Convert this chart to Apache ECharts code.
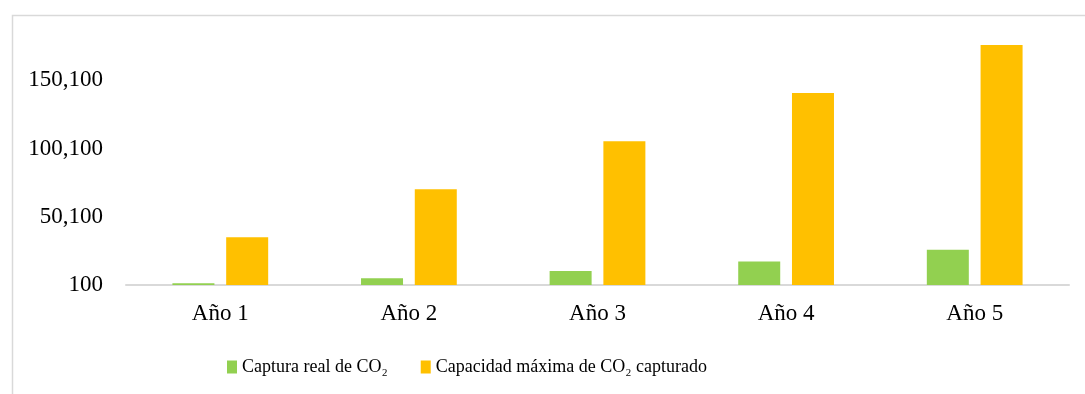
<!DOCTYPE html>
<html>
<head>
<meta charset="utf-8">
<script src="https://cdn.jsdelivr.net/npm/echarts@6/dist/echarts.min.js"></script>
<style>
  html, body { margin: 0; padding: 0; background: #fff; }
  #chart { width: 1085px; height: 394px; }
</style>
</head>
<body>
<div id="chart"></div>
<script>
// Años del periodo de operación
const categories = ['Año 1', 'Año 2', 'Año 3', 'Año 4', 'Año 5'];
// CO₂ capturado realmente cada año
const capturaReal = [1300, 5000, 10300, 17400, 25900];
// Capacidad máxima de captura de CO₂
const capacidadMaxima = [35000, 70200, 105500, 140700, 175900];
// Escala del eje vertical
const yMin = 100;
const yStep = 50000;
const yMax = 200100;

const seriesNames = ['Captura real de CO₂', 'Capacidad máxima de CO₂ capturado'];
const FONT = '"Liberation Serif", "Times New Roman", serif';

const chart = echarts.init(document.getElementById('chart'));
chart.setOption({
  animation: false,
  backgroundColor: '#ffffff',
  graphic: [{
    type: 'rect',
    left: 10, top: 13,
    shape: { width: 1200, height: 500 },
    style: { fill: 'none', stroke: '#d9d9d9', lineWidth: 1.5 },
    silent: true, z: -1
  }],
  grid: { left: 126, right: 16, top: 12, bottom: 109, containLabel: false },
  legend: {
    left: 222, top: 353,
    itemWidth: 10, itemHeight: 13, itemGap: 33,
    icon: 'rect',
    textStyle: { fontFamily: FONT, fontSize: 18, color: '#000' },
    data: seriesNames
  },
  xAxis: {
    type: 'category',
    data: categories,
    axisLine: { lineStyle: { color: '#d9d9d9', width: 2 } },
    axisTick: { show: false },
    axisLabel: { fontFamily: FONT, fontSize: 23, color: '#000', margin: 17 }
  },
  yAxis: {
    type: 'value',
    min: yMin, max: yMax, interval: yStep,
    axisLine: { show: false },
    axisTick: { show: false },
    splitLine: { show: false },
    axisLabel: {
      fontFamily: FONT, fontSize: 23, color: '#000', margin: 23,
      showMaxLabel: false,
      formatter: v => v.toLocaleString('en-US')
    }
  },
  series: [
    {
      name: seriesNames[0], type: 'bar', data: capturaReal,
      itemStyle: { color: '#92d050' },
      barWidth: 42, barGap: '28%'
    },
    {
      name: seriesNames[1], type: 'bar', data: capacidadMaxima,
      itemStyle: { color: '#ffc000' },
      barWidth: 42
    }
  ]
});
</script>
</body>
</html>
